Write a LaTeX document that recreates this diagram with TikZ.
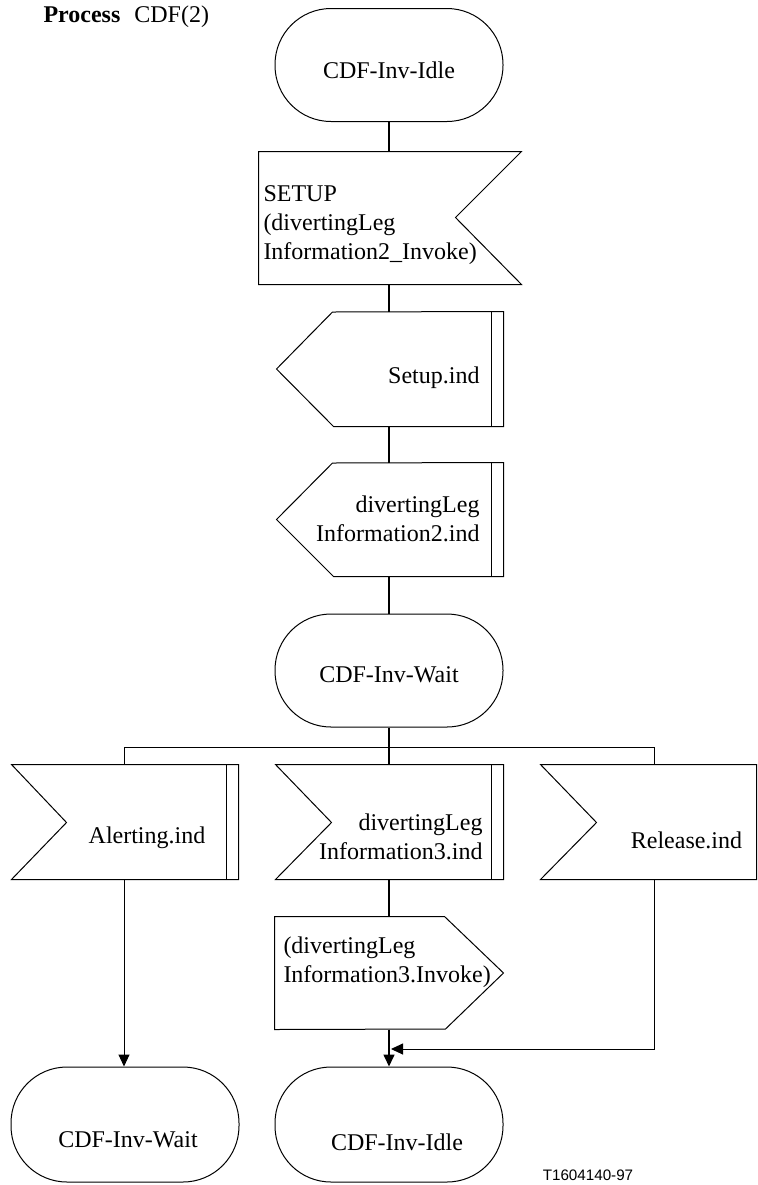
\documentclass[tikz,border=0pt]{standalone}
\usepackage{fontspec}
\setmainfont{Liberation Serif}
\newfontfamily\sigfont{Liberation Sans}
\usetikzlibrary{arrows.meta}

\begin{document}
\begin{tikzpicture}[x=0.5pt, y=-0.5pt, >={Triangle[length=6pt,width=5.5pt]},
  font=\fontsize{12}{14.5}\selectfont, line width=0.5pt,
  st/.style={draw, rounded corners=28pt, minimum width=114pt, minimum height=56.5pt, inner sep=0pt},
  sg/.style={inner sep=0pt},
  bar/.style={line width=0.9pt},
  sp/.style={line width=0.8pt},
  txt/.style={inner sep=0pt}]
\useasboundingbox (0,0) rectangle (757,1185);
\node[anchor=west, txt] (title) at (43,17) {\textbf{Process}\hspace{7pt}CDF(2)};
% --- top: state, SETUP input, two outputs ---
\node[st] (idle1) at (389,65) {};
\node[txt] at (389,70) {CDF-Inv-Idle};
\node[sg, minimum width=131pt, minimum height=66pt] (setup) at (390,218) {};
\draw (setup.north west) -- (setup.north east) -- ++(-66,66) -- (setup.south east) -- (setup.south west) -- cycle;
\node[txt, anchor=west, align=left] at (263,225) {SETUP\\(divertingLeg\\Information2\_Invoke)};
\node[sg, minimum width=113pt, minimum height=57pt] (sind) at (390,369) {};
\draw (sind.west) -- ++(56,-57) -- (sind.north east) -- (sind.south east) -- ++(-170,0) -- cycle;
\draw[bar] ([xshift=-6pt]sind.north east) -- ([xshift=-6pt]sind.south east);
\node[txt, anchor=east] at (480,378) {Setup.ind};
\node[sg, minimum width=113pt, minimum height=56.5pt] (dind2) at (390,519.5) {};
\draw (dind2.west) -- ++(56,-56.5) -- (dind2.north east) -- (dind2.south east) -- ++(-170,0) -- cycle;
\draw[bar] ([xshift=-6pt]dind2.north east) -- ([xshift=-6pt]dind2.south east);
\node[txt, anchor=east, align=right] at (480,519) {divertingLeg\\Information2.ind};
\node[st] (wait1) at (389,670.5) {};
\node[txt] at (389,675) {CDF-Inv-Wait};
% --- three inputs ---
\coordinate (busL) at (124,747);
\coordinate (busR) at (654,747);
\node[sg, minimum width=113pt, minimum height=57pt] (alert) at (125,822) {};
\draw (alert.north west) -- (alert.north east) -- (alert.south east) -- (alert.south west) -- ++(55,-57) -- cycle;
\draw[bar] ([xshift=-6pt]alert.north east) -- ([xshift=-6pt]alert.south east);
\node[txt] at (147,838) {Alerting.ind};
\node[sg, minimum width=113.5pt, minimum height=57pt] (dind3) at (389.5,822) {};
\draw (dind3.north west) -- (dind3.north east) -- (dind3.south east) -- (dind3.south west) -- ++(56,-57) -- cycle;
\draw[bar] ([xshift=-6pt]dind3.north east) -- ([xshift=-6pt]dind3.south east);
\node[txt, anchor=east, align=right] at (483,837) {divertingLeg\\Information3.ind};
\node[sg, minimum width=107.5pt, minimum height=57pt] (rel) at (648.5,822) {};
\draw (rel.north west) -- (rel.north east) -- (rel.south east) -- (rel.south west) -- ++(56,-57) -- cycle;
\node[txt] at (686.5,840) {Release.ind};
% --- output and end states ---
\node[sg, minimum width=114pt, minimum height=56pt] (task) at (389,973) {};
\draw (task.north west) -- ++(170,0) -- (task.east) -- ++(-58,56) -- (task.south west) -- cycle;
\node[txt, anchor=west, align=left] at (283,962) {(divertingLeg\\Information3.Invoke)};
\node[st, minimum height=57.5pt] (wait2) at (125,1124.5) {};
\node[txt] at (128,1140) {CDF-Inv-Wait};
\node[st, minimum height=57.5pt] (idle2) at (389,1124.5) {};
\node[txt] at (397,1142) {CDF-Inv-Idle};
\coordinate (merge) at (391,1049);
% --- connectors ---
\draw[sp] (idle1.south) -- (idle1.south |- setup.north);
\draw[sp] (setup.south -| idle1) -- (sind.north -| idle1);
\draw[sp] (sind.south -| idle1) -- (dind2.north -| idle1);
\draw[sp] (dind2.south -| idle1) -- (wait1.north);
\draw[sp] (wait1.south) -- (dind3.north -| wait1);
\draw (alert.north -| busL) -- (busL) -- (busR) -- (rel.north -| busR);
\draw[->] (alert.south -| busL) -- (wait2.north -| busL);
\draw[sp] (dind3.south -| idle1) -- (task.north -| idle1);
\draw[sp, ->] (task.south -| idle1) -- (idle2.north);
\draw[->] (rel.south -| busR) |- (merge);
\node[txt, font=\sigfont\fontsize{7.6}{9}\selectfont] (sig) at (588,1175) {T1604140-97};
\end{tikzpicture}
\end{document}
